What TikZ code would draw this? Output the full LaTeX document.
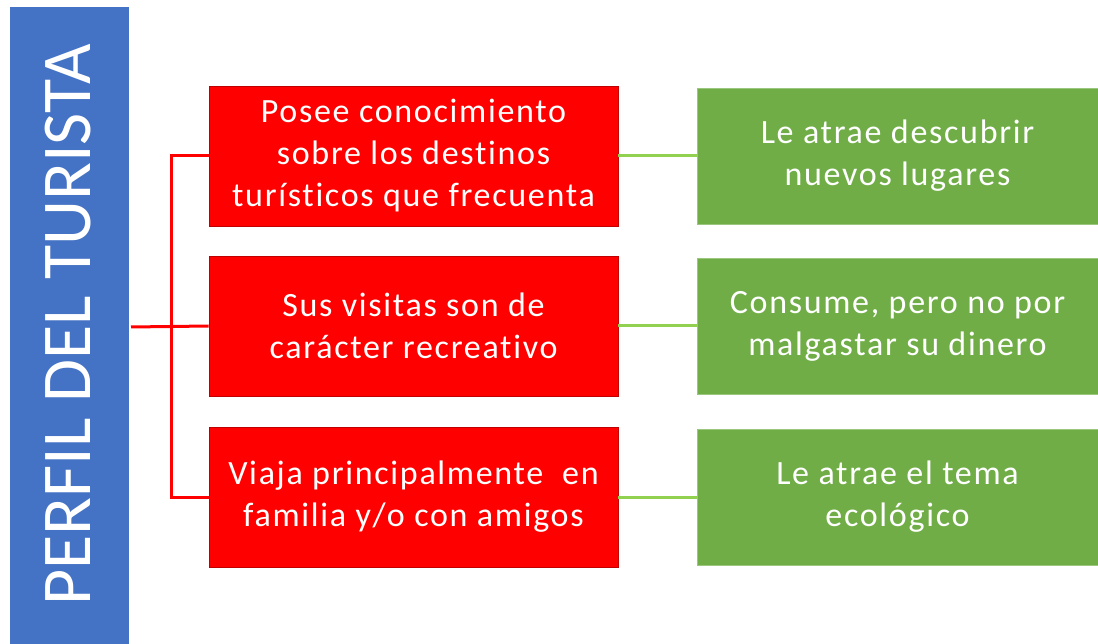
\documentclass[tikz,border=0pt]{standalone}
\usepackage{fontspec}
\setmainfont{Carlito}
\definecolor{bluebar}{HTML}{4472C4}
\definecolor{redbox}{HTML}{FF0000}
\definecolor{redline}{HTML}{C00000}
\definecolor{greenbox}{HTML}{70AD47}
\definecolor{greenline}{HTML}{92D050}
\newfontfamily\boxfont[LetterSpace=5,Ligatures=NoCommon]{Carlito}
\begin{document}
\begin{tikzpicture}[x=1pt,y=-1pt,
  redstyle/.style={draw=redline,line width=0.8pt,fill=redbox,text=white,minimum width=409pt,minimum height=140pt,align=center,inner sep=0pt,font=\boxfont\fontsize{34}{42}\selectfont},
  greenstyle/.style={draw=greenbox!70!white,line width=0.8pt,fill=greenbox,text=white,minimum width=401pt,minimum height=136pt,align=center,inner sep=0pt,font=\boxfont\fontsize{34}{42}\selectfont},
  redconn/.style={draw=redbox,line width=3pt},
  greenconn/.style={draw=greenline,line width=3pt}]
\useasboundingbox (0,0) rectangle (1098,644);
\fill[bluebar] (10,7) rectangle (129,644);
\node[text=white,rotate=90,font=\fontsize{70}{80}\selectfont,inner sep=0pt] (title) at (68,325) {PERFIL DEL TURISTA};
\coordinate (barR) at (131,327);
\node[redstyle] (r1) at (413.5,156) {Posee conocimiento\\sobre los destinos\\turísticos que frecuenta};
\node[redstyle] (r2) at (413.5,326) {Sus visitas son de\\carácter recreativo};
\node[redstyle] (r3) at (413.5,497) {Viaja principalmente\ \ en\\familia y/o con amigos};
\node[greenstyle] (g1) at (897.5,156) {Le atrae descubrir\\nuevos lugares};
\node[greenstyle] (g2) at (897.5,326) {Consume, pero no por\\malgastar su dinero};
\node[greenstyle] (g3) at (897.5,497) {Le atrae el tema\\ecológico};
\coordinate (j) at (171,327);
\draw[redconn] (barR) -- (r2.west);
\draw[redconn] (r1.west) -| (j) |- (r3.west);
\draw[greenconn] (r1.east) -- (g1.west);
\draw[greenconn] (r2.east) -- (g2.west);
\draw[greenconn] (r3.east) -- (g3.west);
\end{tikzpicture}
\end{document}
